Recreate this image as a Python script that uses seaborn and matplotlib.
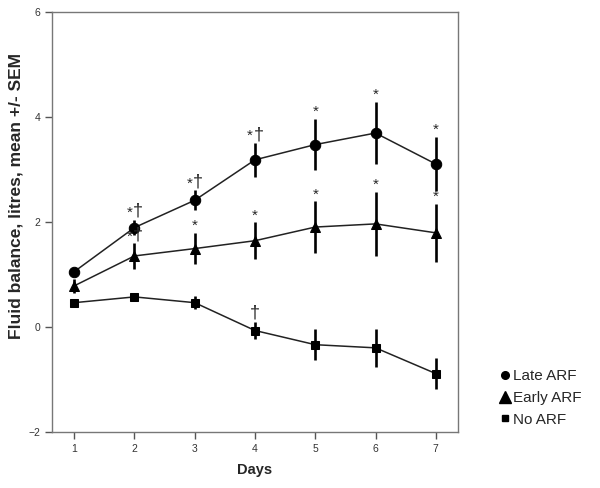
import numpy as np
import pandas as pd
import seaborn as sns
import matplotlib.pyplot as plt
from matplotlib.lines import Line2D

days = [1, 2, 3, 4, 5, 6, 7]

late_mean = [1.05, 1.89, 2.41, 3.18, 3.47, 3.69, 3.10]
late_sem = [0.05, 0.15, 0.19, 0.32, 0.49, 0.59, 0.51]
late_marks = ["", "*†", "*†", "*†", "*", "*", "*"]

early_mean = [0.78, 1.35, 1.49, 1.64, 1.90, 1.96, 1.79]
early_sem = [0.13, 0.24, 0.30, 0.35, 0.49, 0.61, 0.55]
early_marks = ["", "*†", "*", "*", "*", "*", "*"]

none_mean = [0.46, 0.57, 0.46, -0.07, -0.34, -0.40, -0.89]
none_sem = [0.03, 0.05, 0.12, 0.17, 0.30, 0.36, 0.30]
none_marks = ["", "", "", "†", "", "", ""]

groups = ["Late ARF", "Early ARF", "No ARF"]
markers = {"Late ARF": "o", "Early ARF": "^", "No ARF": "s"}
msizes = {"Late ARF": 7.5, "Early ARF": 6.5, "No ARF": 6}
leg_sizes = {"Late ARF": 5.5, "Early ARF": 8, "No ARF": 5}

df = pd.concat([
    pd.DataFrame({"day": days, "mean": late_mean, "sem": late_sem, "mark": late_marks, "group": "Late ARF"}),
    pd.DataFrame({"day": days, "mean": early_mean, "sem": early_sem, "mark": early_marks, "group": "Early ARF"}),
    pd.DataFrame({"day": days, "mean": none_mean, "sem": none_sem, "mark": none_marks, "group": "No ARF"}),
])

sns.set_style("white")
plt.rcParams["font.family"] = ["Liberation Sans", "DejaVu Sans"]

fig = plt.figure(figsize=(6, 4.88), dpi=100)
ax = fig.add_axes([0.087, 0.115, 0.676, 0.861])


def put_mark(x, y, text):
    star = "*" in text
    dag = "†" in text
    if star and dag:
        ax.annotate("*", (x, y), xytext=(-3.5, 0), textcoords="offset points",
                    ha="center", va="bottom", fontsize=11, zorder=5)
        ax.annotate("†", (x, y), xytext=(2.5, 0), textcoords="offset points",
                    ha="center", va="bottom", fontsize=13, zorder=5)
    elif star:
        ax.annotate("*", (x, y), xytext=(0, 0), textcoords="offset points",
                    ha="center", va="bottom", fontsize=11, zorder=5)
    elif dag:
        ax.annotate("†", (x, y), xytext=(0, 0), textcoords="offset points",
                    ha="center", va="bottom", fontsize=13, zorder=5)


for g in groups:
    sub = df[df["group"] == g]
    ax.errorbar(sub["day"], sub["mean"], yerr=sub["sem"], fmt="none",
                ecolor="black", elinewidth=1.9, capsize=0, zorder=2)
    sns.lineplot(data=sub, x="day", y="mean", color="#222222", linewidth=1.1,
                 marker=markers[g], markersize=msizes[g], markeredgecolor="black",
                 markerfacecolor="black", ax=ax, legend=False, zorder=3)
    for _, r in sub.iterrows():
        if r["mark"]:
            put_mark(r["day"], r["mean"] + r["sem"], r["mark"])

ax.set_xlim(0.635, 7.365)
ax.set_ylim(-2, 6)
ax.set_xticks(days)
ax.set_yticks([-2, 0, 2, 4, 6])
ax.tick_params(axis="both", direction="out", length=5, width=1, color="#555555",
               labelsize=7.5, labelcolor="#333333", bottom=True, left=True)
for s in ax.spines.values():
    s.set_color("#777777")
    s.set_linewidth(1)

ax.set_xlabel("Days", fontsize=10.5, fontweight="bold", labelpad=7)
ax.set_ylabel("Fluid balance, litres, mean +/- SEM", fontsize=12.5, fontweight="bold")
ax.yaxis.set_label_coords(-0.09, 0.562)
ax.yaxis.label.set_va("center")

handles = [Line2D([], [], linestyle="none", marker=markers[g], color="black",
                  markersize=leg_sizes[g]) for g in groups]
fig.legend(handles, groups, loc="upper left", bbox_to_anchor=(0.833, 0.243),
           frameon=False, fontsize=11, handlelength=0.7, handletextpad=0.15,
           labelspacing=0.5, borderaxespad=0, borderpad=0)

fig.savefig("out.png", dpi=100, facecolor="white")
